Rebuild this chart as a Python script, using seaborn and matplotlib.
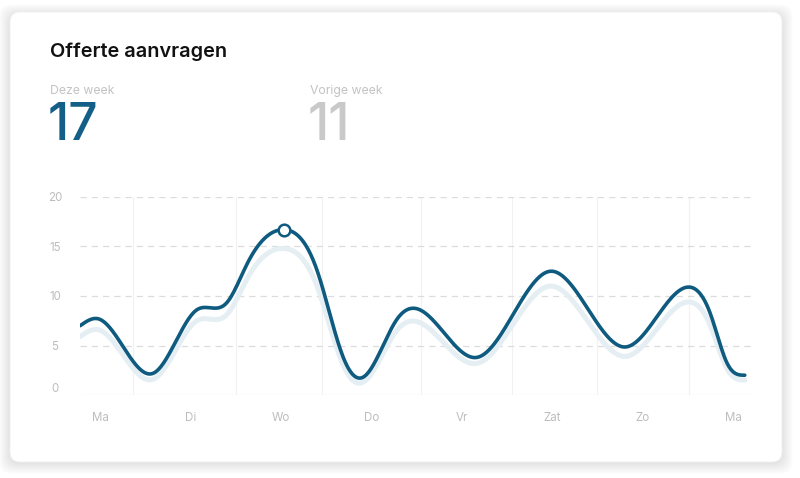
import numpy as np
import pandas as pd
import matplotlib
matplotlib.use("Agg")
import matplotlib.pyplot as plt
import matplotlib.transforms as mtransforms
import seaborn as sns
from matplotlib.patches import FancyBboxPatch

# ---- data ----
dag_labels = ["Ma", "Di", "Wo", "Do", "Vr", "Zat", "Zo", "Ma"]
dag_pos = [0, 1, 2, 3, 4, 5, 6, 7]
punt_x = [-0.22, -0.02, 0.59, 1.07, 1.40, 1.63, 2.04, 2.40, 2.69, 2.91,
          3.28, 3.51, 4.17, 4.98, 5.81, 6.50, 6.75, 6.93, 7.13]
deze_week = [7.0, 7.7, 2.2, 8.6, 9.3, 13.3, 16.7, 12.6, 3.8, 1.8,
             7.6, 8.7, 3.8, 12.5, 4.85, 10.9, 8.2, 3.3, 2.0]
schaduw = [5.9, 6.6, 1.6, 7.5, 8.1, 11.8, 14.8, 11.0, 3.0, 1.3,
           6.5, 7.4, 3.2, 11.0, 3.9, 9.4, 7.0, 2.7, 1.5]
y_ticks = [0, 5, 10, 15, 20]
v_lijnen = [0.37, 1.5, 2.46, 3.55, 4.56, 5.5, 6.51]
piek_index = 6
totaal_deze = "17"
totaal_vorige = "11"

BLAUW = "#0f5b80"
GRIJS_TXT = "#c3c3c3"


def spline(x, y, xs):
    # natural cubic spline, drawn like a smoothed chart line
    x = np.asarray(x, float)
    y = np.asarray(y, float)
    n = len(x)
    h = np.diff(x)
    A = np.zeros((n, n))
    b = np.zeros(n)
    A[0, 0] = A[-1, -1] = 1
    for i in range(1, n - 1):
        A[i, i - 1] = h[i - 1]
        A[i, i] = 2 * (h[i - 1] + h[i])
        A[i, i + 1] = h[i]
        b[i] = 6 * ((y[i + 1] - y[i]) / h[i] - (y[i] - y[i - 1]) / h[i - 1])
    M = np.linalg.solve(A, b)
    idx = np.clip(np.searchsorted(x, xs) - 1, 0, n - 2)
    x0, x1 = x[idx], x[idx + 1]
    hh = h[idx]
    return (M[idx] * (x1 - xs) ** 3 / (6 * hh) + M[idx + 1] * (xs - x0) ** 3 / (6 * hh)
            + (y[idx] / hh - M[idx] * hh / 6) * (x1 - xs)
            + (y[idx + 1] / hh - M[idx + 1] * hh / 6) * (xs - x0))


sns.set_theme(style="white")
plt.rcParams["font.family"] = ["Inter", "DejaVu Sans"]

fig = plt.figure(figsize=(8, 4.78), dpi=100)
fig.patch.set_facecolor("white")

# card background with soft shadow
bg = fig.add_axes([0, 0, 1, 1])
bg.set_xlim(0, 800)
bg.set_ylim(478, 0)
bg.axis("off")
for i in range(10):
    grow = 1 + i * 1.2
    bg.add_patch(FancyBboxPatch((10 - grow + 1, 12 - grow + 4), 772 + 2 * grow - 2, 450 + 2 * grow - 4,
                                boxstyle="round,pad=0,rounding_size=12",
                                facecolor="black", edgecolor="none", alpha=0.013))
bg.add_patch(FancyBboxPatch((10, 12), 772, 450, boxstyle="round,pad=0,rounding_size=10",
                            facecolor="white", edgecolor="#f0f0f0", linewidth=0.6))

bg.text(50, 52, "Offerte aanvragen", fontsize=14.3, fontweight="semibold", color="#111111", va="center")
bg.text(50, 91, "Deze week", fontsize=8.8, color=GRIJS_TXT, va="center")
bg.text(48, 126, totaal_deze, fontsize=37, fontweight="medium", color="#135f88", va="center")
bg.text(310, 91, "Vorige week", fontsize=8.8, color=GRIJS_TXT, va="center")
bg.text(308, 126, totaal_vorige, fontsize=37, fontweight="medium", color="#c9c9c9", va="center")

# chart
ax = fig.add_axes([80 / 800, 1 - 395 / 478, 672 / 800, 198 / 478])
ax.set_facecolor("none")
xs = np.linspace(punt_x[0], punt_x[-1], 800)
df = pd.DataFrame({"x": xs, "deze": spline(punt_x, deze_week, xs), "schaduw": spline(punt_x, schaduw, xs)})

for v in v_lijnen:
    ax.plot([v, v], [0, 20], color="#f1f1f1", linewidth=0.8, zorder=0)
for t in y_ticks[1:]:
    ax.axhline(t, color="#dcdcdc", linewidth=0.9, linestyle=(0, (5, 4)), zorder=0)
ax.axhline(0, color="#eeeeee", linewidth=0.9, zorder=0)

sns.lineplot(data=df, x="x", y="schaduw", ax=ax, color="#e5eef3", linewidth=3.6, zorder=2)
sns.lineplot(data=df, x="x", y="deze", ax=ax, color=BLAUW, linewidth=2.6, zorder=3)
ax.scatter([punt_x[piek_index]], [deze_week[piek_index]], s=70, facecolor="white",
           edgecolor=BLAUW, linewidth=1.8, zorder=4)

ax.set_xlim(-0.221, 7.21)
ax.set_ylim(0, 20)
ax.set_xticks(dag_pos)
ax.set_xticklabels(dag_labels)
ax.set_yticks(y_ticks)
ax.set_yticklabels([str(t) for t in y_ticks])
ax.tick_params(axis="x", length=0, pad=12, labelsize=8.3, labelcolor="#bdbdbd")
ax.tick_params(axis="y", length=0, pad=18, labelsize=8.3, labelcolor="#bdbdbd")
for lab in ax.get_yticklabels():
    lab.set_horizontalalignment("center")
# the "0" label sits a little above the base line in the reference
nul = ax.get_yticklabels()[0]
nul.set_transform(nul.get_transform() + mtransforms.ScaledTranslation(0, 8 / 100, fig.dpi_scale_trans))
ax.set_xlabel("")
ax.set_ylabel("")
for s in ax.spines.values():
    s.set_visible(False)

fig.savefig("out.png", dpi=100)
